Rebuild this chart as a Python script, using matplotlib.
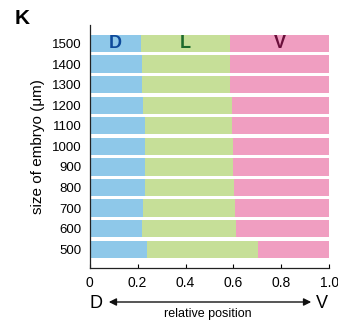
import matplotlib
matplotlib.use("Agg")
import matplotlib.pyplot as plt
import numpy as np

sizes = [500, 600, 700, 800, 900, 1000, 1100, 1200, 1300, 1400, 1500]
d_end = [0.239, 0.217, 0.222, 0.229, 0.231, 0.229, 0.229, 0.224, 0.218, 0.218, 0.214]
l_end = [0.701, 0.609, 0.607, 0.603, 0.600, 0.598, 0.594, 0.593, 0.586, 0.584, 0.586]
xticks = [0, 0.2, 0.4, 0.6, 0.8, 1.0]
xtick_labels = ["0", "0.2", "0.4", "0.6", "0.8", "1.0"]

plt.rcParams['font.family'] = ['Liberation Sans', 'DejaVu Sans']

fig = plt.figure(figsize=(3.38, 3.26), dpi=100)
ax = fig.add_axes([0.2654, 0.178, 0.7086, 0.745])

y = np.arange(len(sizes))
d = np.array(d_end)
l = np.array(l_end)
h = 0.84
ax.barh(y, d, height=h, color="#8ec8e9", left=0)
ax.barh(y, l - d, height=h, left=d, color="#c6df98")
ax.barh(y, 1 - l, height=h, left=l, color="#f09ec1")

top = len(sizes) - 1
ax.text(d[top] / 2, top, "D", color="#0d4a9b", fontsize=13, fontweight="bold", ha="center", va="center")
ax.text((d[top] + l[top]) / 2, top, "L", color="#1d6b2b", fontsize=13, fontweight="bold", ha="center", va="center")
ax.text((l[top] + 1) / 2, top, "V", color="#6a0f3b", fontsize=13, fontweight="bold", ha="center", va="center")

ax.set_xlim(0, 1.0)
ax.set_ylim(-0.91, 10.89)
ax.set_yticks(y)
ax.set_yticklabels([str(s) for s in sizes], fontsize=9.5)
ax.set_xticks(xticks)
ax.set_xticklabels(xtick_labels, fontsize=10)
ax.tick_params(axis="y", length=0, pad=6)
ax.tick_params(axis="x", direction="in", length=3, width=0.8, pad=6)
for s in ["top", "right"]:
    ax.spines[s].set_visible(False)
for s in ["left", "bottom"]:
    ax.spines[s].set_linewidth(0.9)
    ax.spines[s].set_color("#222222")
ax.set_ylabel("size of embryo (μm)", fontsize=11, labelpad=5)

fig.text(22 / 338, 1 - 18 / 326, "K", fontsize=15, fontweight="bold", ha="center", va="center")
fig.text(96 / 338, 1 - 303 / 326, "D", fontsize=13, ha="center", va="center")
fig.text(322 / 338, 1 - 303 / 326, "V", fontsize=13, ha="center", va="center")
fig.patches.append(matplotlib.patches.FancyArrowPatch(
    (106 / 338, 1 - 302 / 326), (314 / 338, 1 - 302 / 326),
    transform=fig.transFigure, arrowstyle="<|-|>", mutation_scale=11,
    color="#111111", linewidth=1.0))
fig.text(208 / 338, 1 - 314 / 326, "relative position", fontsize=9, ha="center", va="center")

fig.savefig("out.png", dpi=100)
